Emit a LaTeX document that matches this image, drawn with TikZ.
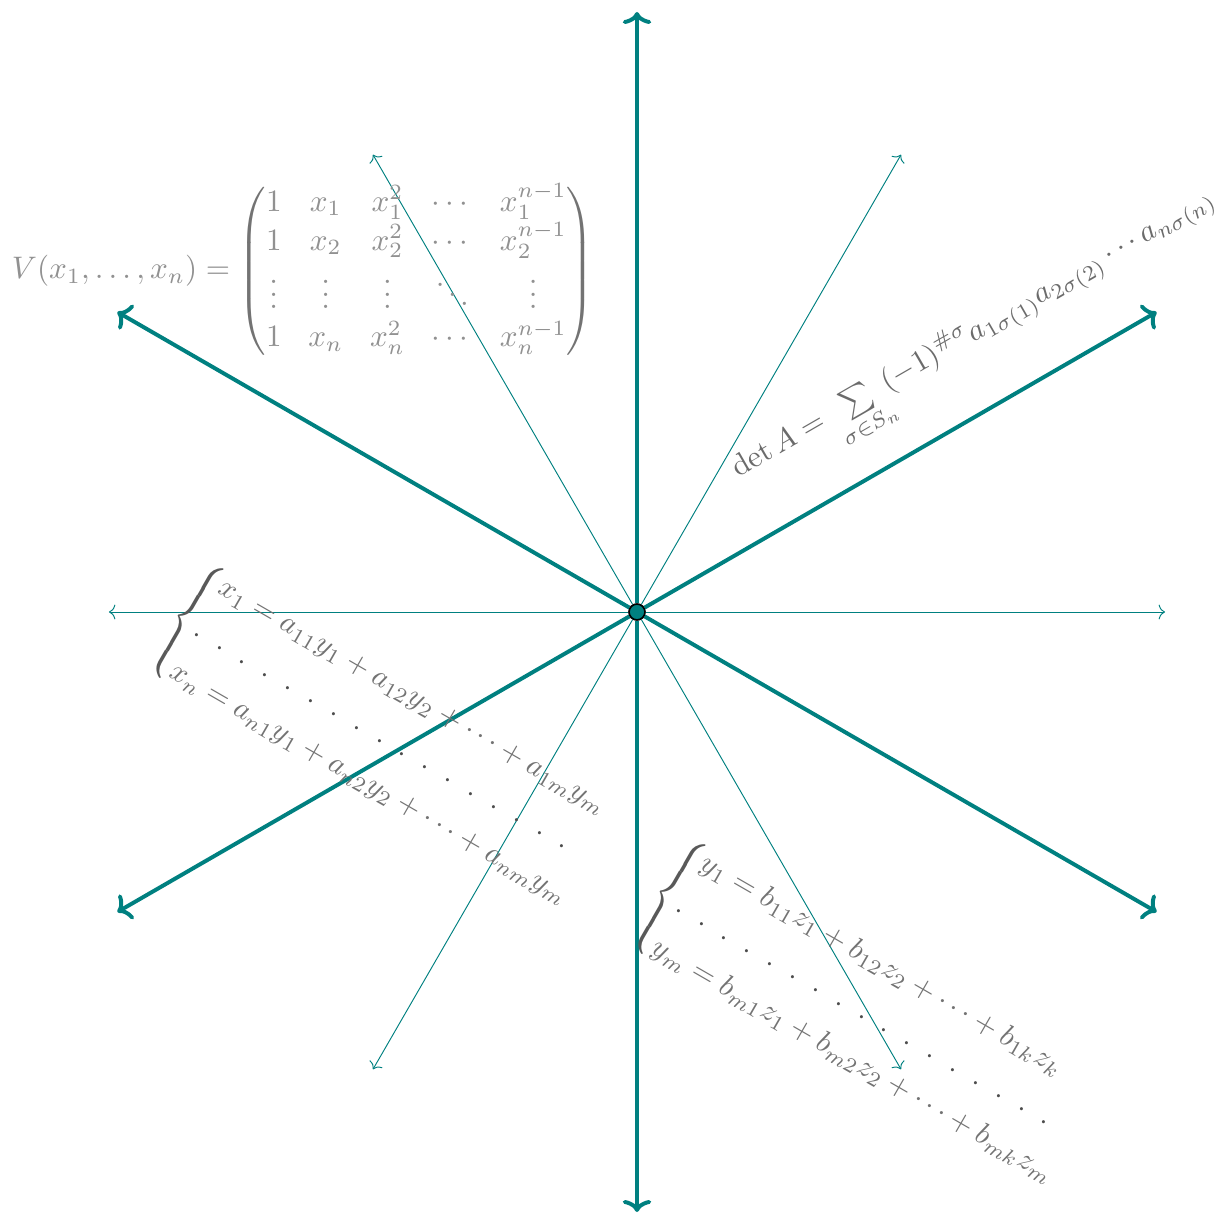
\documentclass[tikz,border=0pt]{standalone}
\usepackage{amsmath}
\usetikzlibrary{arrows.meta}
\newcommand{\dd}{.\kern6pt}
\newcommand{\dotrow}{\rlap{\color{black!70}\dd\dd\dd\dd\dd\dd\dd\dd\dd\dd\dd\dd\dd\dd\dd\dd.}}
\newcommand{\sysA}{\begin{array}{@{}l@{}}
x_1 = a_{11}y_1 + a_{12}y_2 + \cdots + a_{1m}y_m\\
\dotrow\\
x_n = a_{n1}y_1 + a_{n2}y_2 + \cdots + a_{nm}y_m\end{array}}
\newcommand{\sysB}{\begin{array}{@{}l@{}}
y_1 = b_{11}z_1 + b_{12}z_2 + \cdots + b_{1k}z_k\\
\dotrow\\
y_m = b_{m1}z_1 + b_{m2}z_2 + \cdots + b_{mk}z_m\end{array}}
\newcommand{\VM}{\begin{matrix}
1 & x_1 & x_1^2 & \cdots & x_1^{n-1}\\
1 & x_2 & x_2^2 & \cdots & x_2^{n-1}\\
\vdots & \vdots & \vdots & \ddots & \vdots\\
1 & x_n & x_n^2 & \cdots & x_n^{n-1}\end{matrix}}
\begin{document}
\begin{tikzpicture}[x=31.6pt,y=31.6pt,
  thickarrow/.style={draw=teal,line width=1.25pt,
    -{Computer Modern Rightarrow[length=3.8pt,width=9pt]}},
  thinarrow/.style={draw=teal,line width=0.3pt,
    -{Computer Modern Rightarrow[length=2pt,width=4.7pt]}},
  formula/.style={inner sep=0pt,outer sep=0pt},
  system/.style={formula,anchor=west,rotate=-30,scale=0.95}]
\useasboundingbox (-6.37,-6.06) rectangle (5.81,6.12);
\node[circle,fill=teal,draw=black,line width=0.5pt,minimum size=5pt,inner sep=0pt] (c) at (0,0) {};
\foreach \a in {0,60,120,180,240,300}{
  \coordinate (s\a) at (\a:5.28);
  \draw[thinarrow] (c) -- (s\a);
}
\foreach \a in {30,90,150,210,270,330}{
  \coordinate (k\a) at (\a:6);
  \draw[thickarrow] (c) -- (k\a);
}
\node[circle,fill=teal,draw=black,line width=0.5pt,minimum size=5pt,inner sep=0pt] (c2) at (c) {};
\node[formula,anchor=west,scale=0.985] (vand) at (-6.25,3.41)
  {\arraycolsep=4.3pt\def\arraystretch{1.02}$\color{black!43}V(x_1,\ldots,x_n) = \color{black!55}\left({\color{black!43}\VM}\right)$};
\node[formula,anchor=base west,rotate=30,scale=0.965] (det) at (1.01,1.34)
  {$\color{black!58}\det A = \sum\limits_{\sigma\in S_n} (-1)^{\#\sigma} a_{1\sigma(1)}a_{2\sigma(2)}\cdots a_{n\sigma(n)}$};
\node[system] (sysa) at (-4.63,-0.01)
  {\def\arraystretch{1.35}\delimiterfactor=850 \delimitershortfall=8pt $\color{black!65}\left\{{\color{black!55}\sysA}\right.$};
\node[system] (sysb) at (0.19,-2.77)
  {\def\arraystretch{1.35}\delimiterfactor=850 \delimitershortfall=8pt $\color{black!65}\left\{{\color{black!55}\sysB}\right.$};
\end{tikzpicture}
\end{document}
